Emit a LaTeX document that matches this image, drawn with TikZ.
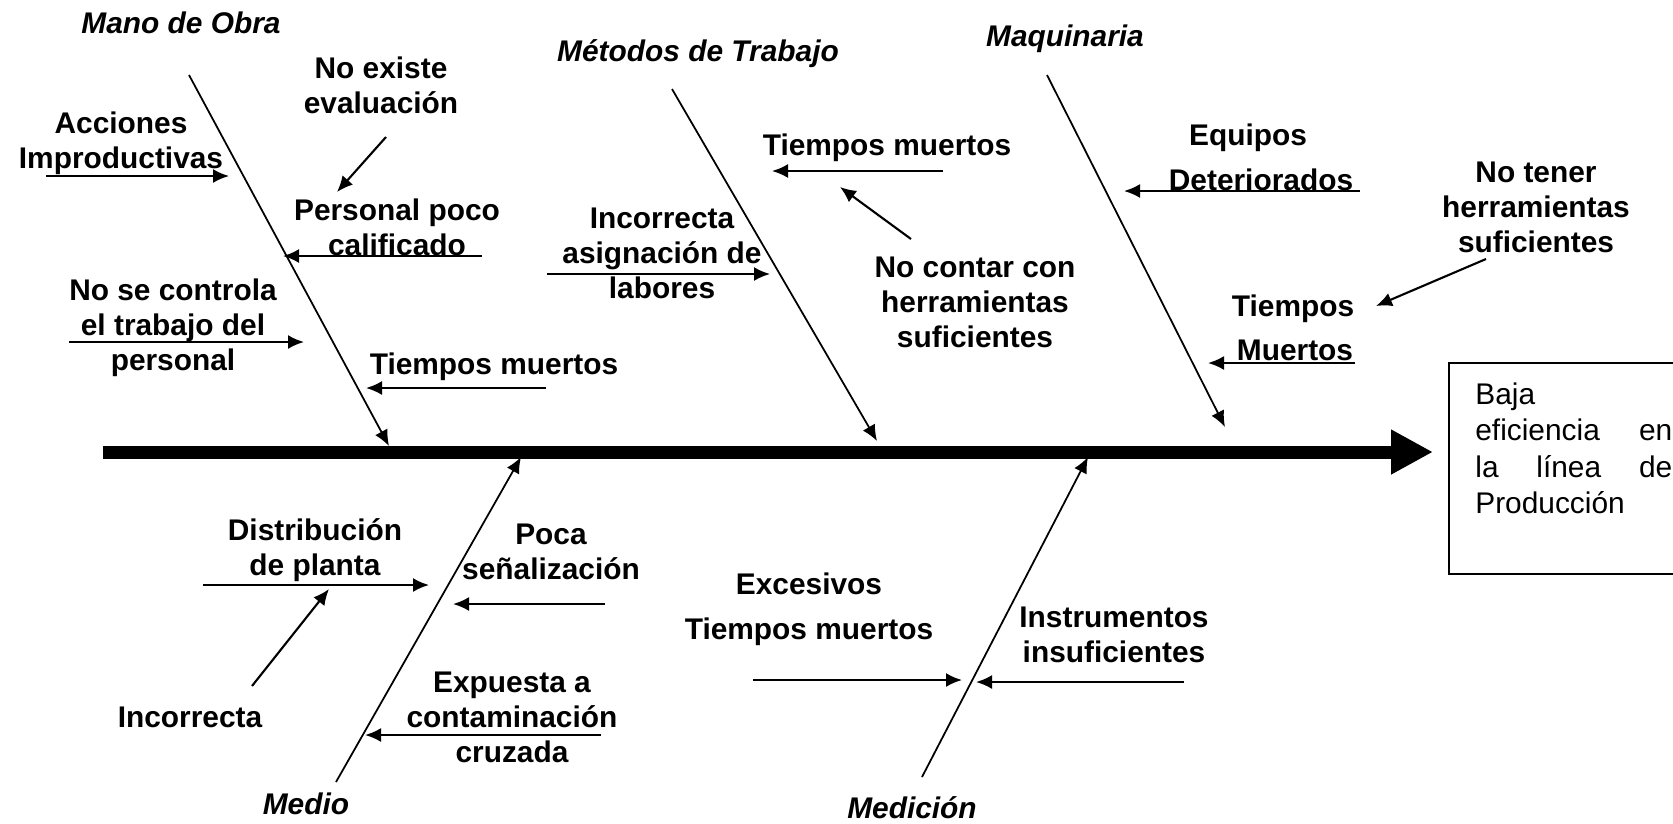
\documentclass[tikz,border=0pt]{standalone}
\usepackage{fontspec}
\setmainfont{Liberation Sans}
\usetikzlibrary{arrows.meta}

\newcommand{\letra}{\fontsize{17}{20}\selectfont}

\tikzset{
	causa/.style={font=\letra\bfseries, align=center, inner sep=0pt},
	rama/.style={font=\letra\bfseries\itshape, inner sep=0pt},
	flecha/.style={-{Latex[length=0.32cm,width=0.28cm]}, line width=1.2pt},
	hueso/.style={-{Latex[length=0.32cm,width=0.28cm]}, line width=1pt}
}

\begin{document}
\begin{tikzpicture}[x=0.02cm, y=-0.02cm]
		\useasboundingbox (0,0) rectangle (1673,823);

		\coordinate (cola) at (103,452);
		\coordinate (cabeza) at (1433,452);
		\draw[line width=0.26cm, -{Triangle[length=0.84cm,width=0.84cm]}] (cola) -- (cabeza);

		\node (efecto) [draw, line width=1pt, anchor=north west, minimum width=6cm, minimum height=4.22cm] at (1448,362) {};
		\node (texto) [anchor=north west, inner sep=0pt, text width=3.94cm, align=left, font=\fontsize{17}{20.8}\selectfont] at (1475,382)
			{Baja\\ eficiencia\hfill en\\ la\hfill línea\hfill de\\ Producción};

		\node[rama] (mo) at (181,23) {Mano de Obra};
		\node[rama] (mt) at (698,54) {Métodos de Trabajo};
		\node[rama] (maq) at (1065,39) {Maquinaria};
		\node[rama] (med) at (306,804) {Medio};
		\node[rama] (medi) at (912,808) {Medición};

		\coordinate (mo1) at (189,75);   \coordinate (mo2) at (389,446);
		\coordinate (mt1) at (672,89);   \coordinate (mt2) at (877,441);
		\coordinate (maq1) at (1047,75); \coordinate (maq2) at (1225,427);
		\coordinate (med1) at (336,782); \coordinate (med2) at (521,457);
		\coordinate (medi1) at (922,777); \coordinate (medi2) at (1088,457);
		\draw[hueso] (mo1) -- (mo2);
		\draw[hueso] (mt1) -- (mt2);
		\draw[hueso] (maq1) -- (maq2);
		\draw[hueso] (med1) -- (med2);
		\draw[hueso] (medi1) -- (medi2);

		\node[causa] (acc) at (121,143) {Acciones\\Improductivas};
		\node[causa] (eva) at (381,85) {No existe\\evaluación};
		\node[causa] (pers) at (397,227) {Personal poco\\calificado};
		\node[causa] (ctrl) at (173,328) {No se controla\\el trabajo del\\personal};
		\node[causa] (tmo) at (494,367) {Tiempos muertos};
		\coordinate (a1) at (46,176);   \coordinate (a2) at (229,176);
		\coordinate (b1) at (386,137);  \coordinate (b2) at (337,192);
		\coordinate (c1) at (482,256);  \coordinate (c2) at (283,256);
		\coordinate (d1) at (69,342);   \coordinate (d2) at (304,342);
		\coordinate (e1) at (546,388);  \coordinate (e2) at (366,388);
		\draw[flecha] (a1) -- (a2);
		\draw[flecha] (b1) -- (b2);
		\draw[flecha] (c1) -- (c2);
		\draw[flecha] (d1) -- (d2);
		\draw[flecha] (e1) -- (e2);

		\node[causa] (tmt) at (887,148) {Tiempos muertos};
		\node[causa] (herr) at (975,302) {No contar con\\herramientas\\suficientes};
		\node[causa] (asig) at (662,253) {Incorrecta\\asignación de\\labores};
		\coordinate (f1) at (943,171);  \coordinate (f2) at (772,171);
		\coordinate (g1) at (911,239);  \coordinate (g2) at (840,187);
		\coordinate (h1) at (547,274);  \coordinate (h2) at (770,274);
		\draw[flecha] (f1) -- (f2);
		\draw[flecha] (g1) -- (g2);
		\draw[flecha] (h1) -- (h2);

		\node[causa] (equi) at (1248,138) {Equipos};
		\node[causa] (det) at (1261,180) {Deteriorados};
		\node[causa] (tener) at (1536,207) {No tener\\herramientas\\suficientes};
		\node[causa] (tiem) at (1293,309) {Tiempos};
		\node[causa] (muer) at (1295,350) {Muertos};
		\coordinate (i1) at (1360,191); \coordinate (i2) at (1124,191);
		\coordinate (j1) at (1486,259); \coordinate (j2) at (1376,306);
		\coordinate (k1) at (1355,363); \coordinate (k2) at (1208,363);
		\draw[flecha] (i1) -- (i2);
		\draw[flecha] (j1) -- (j2);
		\draw[flecha] (k1) -- (k2);

		\node[causa] (dist) at (315,550) {Distribución\\de planta};
		\node[causa] (inco) at (190,717) {Incorrecta};
		\node[causa] (sen) at (551,552) {Poca\\señalización};
		\node[causa] (cont) at (512,717) {Expuesta a\\contaminación\\cruzada};
		\coordinate (l1) at (203,585);  \coordinate (l2) at (429,585);
		\coordinate (m1) at (252,686);  \coordinate (m2) at (329,589);
		\coordinate (n1) at (605,604);  \coordinate (n2) at (453,604);
		\coordinate (o1) at (601,735);  \coordinate (o2) at (365,735);
		\draw[flecha] (l1) -- (l2);
		\draw[flecha] (m1) -- (m2);
		\draw[flecha] (n1) -- (n2);
		\draw[flecha] (o1) -- (o2);

		\node[causa] (exc) at (809,584) {Excesivos};
		\node[causa] (tme) at (809,632) {Tiempos muertos};
		\node[causa] (inst) at (1114,635) {Instrumentos\\insuficientes};
		\coordinate (p1) at (753,680);  \coordinate (p2) at (962,680);
		\coordinate (q1) at (1184,682); \coordinate (q2) at (976,682);
		\draw[flecha] (p1) -- (p2);
		\draw[flecha] (q1) -- (q2);
\end{tikzpicture}
\end{document}
